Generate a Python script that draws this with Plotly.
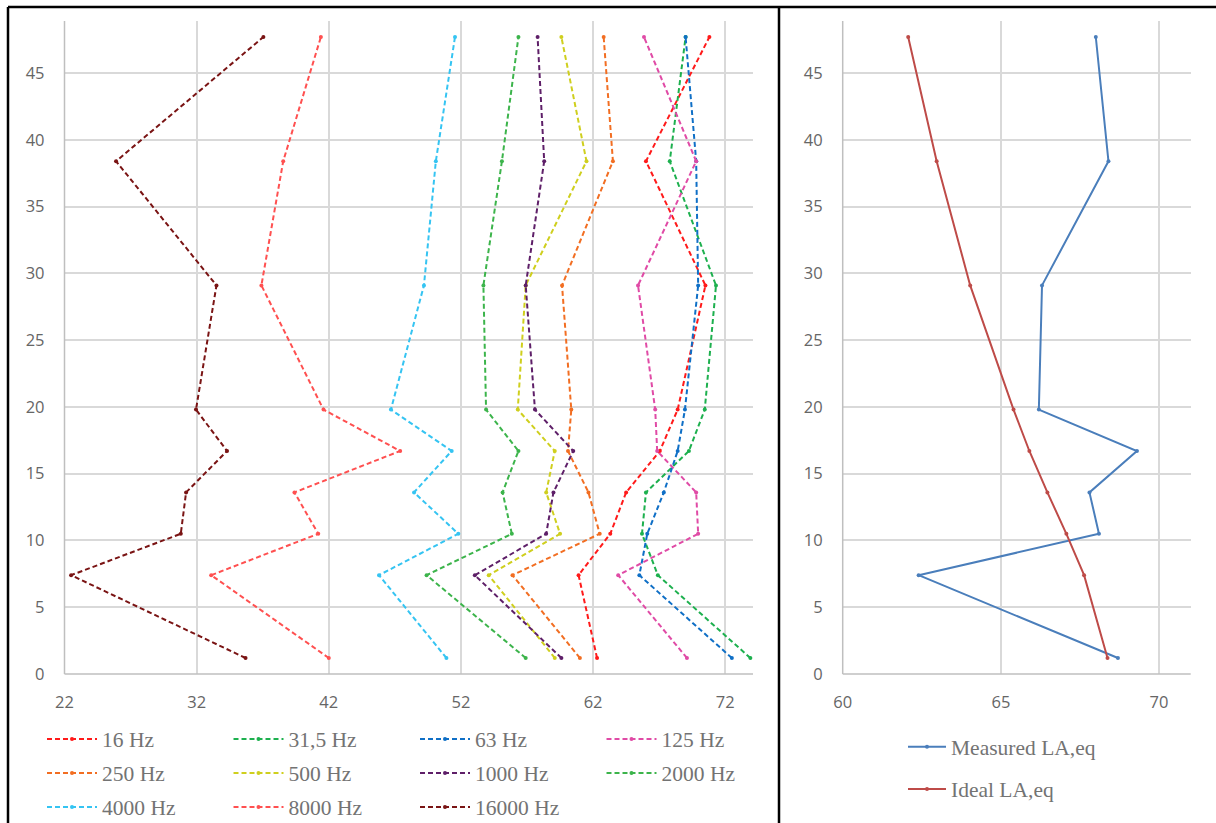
import plotly.graph_objects as go

# ---- data ----
heights = [1.2, 7.4, 10.5, 13.6, 16.7, 19.8, 29.1, 38.4, 47.7]

band_names = ["16 Hz", "31,5 Hz", "63 Hz", "125 Hz",
              "250 Hz", "500 Hz", "1000 Hz", "2000 Hz",
              "4000 Hz", "8000 Hz", "16000 Hz"]

hz16 = [62.3, 60.9, 63.3, 64.5, 67.05, 68.4, 70.5, 66.0, 70.8]
hz31_5 = [73.9, 66.9, 65.7, 66.0, 69.25, 70.45, 71.3, 67.8, 69.0]
hz63 = [72.5, 65.5, 66.1, 67.35, 68.4, 68.95, 69.95, 69.8, 69.0]
hz125 = [69.1, 63.9, 69.95, 69.8, 66.85, 66.7, 65.4, 69.8, 65.85]
hz250 = [61.0, 55.9, 62.5, 61.65, 60.1, 60.35, 59.65, 63.5, 62.8]
hz500 = [59.1, 54.1, 59.5, 58.45, 59.1, 56.3, 56.9, 61.5, 59.6]
hz1000 = [59.6, 53.05, 58.45, 59.0, 60.5, 57.6, 56.9, 58.3, 57.8]
hz2000 = [56.9, 49.4, 55.85, 55.15, 56.35, 53.9, 53.7, 55.1, 56.35]
hz4000 = [50.9, 45.8, 51.8, 48.45, 51.3, 46.7, 49.2, 50.1, 51.55]
hz8000 = [42.0, 33.1, 41.2, 39.4, 47.4, 41.6, 36.9, 38.55, 41.4]
hz16000 = [35.7, 22.5, 30.8, 31.2, 34.3, 31.95, 33.5, 25.9, 37.05]

band_values = [hz16, hz31_5, hz63, hz125, hz250, hz500, hz1000, hz2000,
               hz4000, hz8000, hz16000]
band_colors = ["#FF1A1A", "#1DB04E", "#0F6FC6", "#E04BA6",
               "#F26E22", "#CFCF1E", "#5E1F68", "#3CB44B",
               "#35C4F2", "#FF5050", "#7A1414"]

measured_la = [68.7, 62.4, 68.1, 67.8, 69.3, 66.2, 66.3, 68.4, 68.0]
ideal_la = [68.37, 67.63, 67.07, 66.47, 65.9, 65.4, 64.03, 62.97, 62.07]

left_xticks = [22, 32, 42, 52, 62, 72]
right_xticks = [60, 65, 70]
yticks = [0, 5, 10, 15, 20, 25, 30, 35, 40, 45]

W, H = 1216, 823

fig = go.Figure()

legend_ids = ["legend", "legend2", "legend3"]
for i, (name, vals, col) in enumerate(zip(band_names, band_values, band_colors)):
    fig.add_trace(go.Scatter(
        x=vals, y=heights, name=name, mode="lines+markers",
        line=dict(color=col, width=2, dash="5px,3px"),
        marker=dict(color=col, size=4),
        xaxis="x", yaxis="y",
        legend=legend_ids[i // 4],
    ))

fig.add_trace(go.Scatter(
    x=measured_la, y=heights, name="Measured LA,eq", mode="lines+markers",
    line=dict(color="#4A7EBB", width=2), marker=dict(color="#4A7EBB", size=4),
    xaxis="x2", yaxis="y2", legend="legend4",
))
fig.add_trace(go.Scatter(
    x=ideal_la, y=heights, name="Ideal LA,eq", mode="lines+markers",
    line=dict(color="#BE4B48", width=2), marker=dict(color="#BE4B48", size=4),
    xaxis="x2", yaxis="y2", legend="legend5",
))

tick_font = dict(family="Open Sans", size=16.5, color="#666666")
grid = "#D9D9D9"
axis_line = "#BFBFBF"

common_x = dict(showgrid=True, gridcolor=grid, gridwidth=1.5, zeroline=False,
                showline=False, ticks="", tickfont=tick_font,
                ticklabelstandoff=16, automargin=False)
common_y = dict(showgrid=True, gridcolor=grid, gridwidth=1.5, zeroline=False,
                showline=False, ticks="", tickfont=tick_font,
                ticklabelstandoff=19, automargin=False,
                range=[0, 48.9], tickvals=yticks)

ydom = [1 - 674 / H, 1 - 21 / H]

leg_font = dict(family="Liberation Serif", size=21.5, color="#737373")
row_y = [739, 773, 807]


def row_legend(yp):
    return dict(orientation="h", x=42 / W, y=1 - yp / H, xanchor="left",
                yanchor="middle", entrywidth=121.5, entrywidthmode="pixels",
                itemwidth=50, font=leg_font, bgcolor="rgba(0,0,0,0)",
                traceorder="normal", borderwidth=0)


fig.update_layout(
    width=W, height=H,
    margin=dict(l=0, r=0, t=0, b=0, autoexpand=False),
    paper_bgcolor="white", plot_bgcolor="white",
    template="none",
    xaxis=dict(common_x, domain=[64.5 / W, 753 / W], range=[22, 74.1],
               tickvals=left_xticks, anchor="y"),
    yaxis=dict(common_y, domain=ydom, anchor="x"),
    xaxis2=dict(common_x, domain=[842.7 / W, 1190.7 / W], range=[60, 71],
                tickvals=right_xticks, anchor="y2"),
    yaxis2=dict(common_y, domain=ydom, anchor="x2"),
    legend=row_legend(row_y[0]),
    legend2=row_legend(row_y[1]),
    legend3=row_legend(row_y[2]),
    legend4=dict(orientation="v", x=903 / W, y=1 - 746.7 / H, xanchor="left",
                 yanchor="middle", itemwidth=38, font=leg_font,
                 bgcolor="rgba(0,0,0,0)"),
    legend5=dict(orientation="v", x=903 / W, y=1 - 789 / H, xanchor="left",
                 yanchor="middle", itemwidth=38, font=leg_font,
                 bgcolor="rgba(0,0,0,0)"),
    showlegend=True,
)

# axis lines (left and bottom of each plot area)
for xr, yr in (("x", "y"), ("x2", "y2")):
    fig.add_shape(type="line", xref=xr + " domain", yref=yr + " domain",
                  x0=0, x1=0, y0=0, y1=1, line=dict(color=axis_line, width=1.5))
    fig.add_shape(type="line", xref=xr + " domain", yref=yr + " domain",
                  x0=0, x1=1, y0=0, y1=0, line=dict(color=axis_line, width=1.5))

# black frame around the panels
frame = dict(color="black", width=2.5)
fig.add_shape(type="line", xref="paper", yref="paper",
              x0=8 / W, x1=1, y0=1 - 7 / H, y1=1 - 7 / H, line=frame)
fig.add_shape(type="line", xref="paper", yref="paper",
              x0=8 / W, x1=8 / W, y0=0, y1=1 - 7 / H, line=frame)
fig.add_shape(type="line", xref="paper", yref="paper",
              x0=779 / W, x1=779 / W, y0=0, y1=1 - 7 / H, line=frame)

fig.write_html("out.html", config={"displayModeBar": False},
               post_script="document.body.style.margin='0';document.body.style.overflow='hidden';")
